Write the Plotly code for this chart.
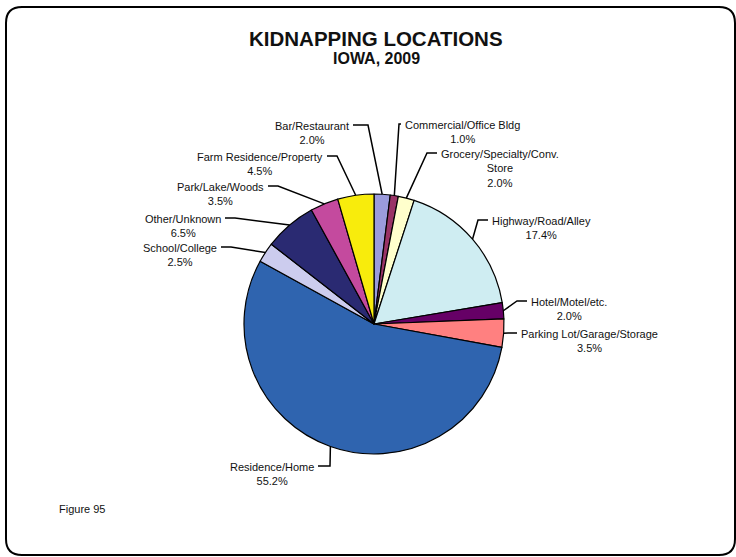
import math
import plotly.graph_objects as go

W, H = 736, 557

# ---- data (clockwise from 12 o'clock) ----
categories = [
    "Bar/Restaurant",
    "Commercial/Office Bldg",
    "Grocery/Specialty/Conv. Store",
    "Highway/Road/Alley",
    "Hotel/Motel/etc.",
    "Parking Lot/Garage/Storage",
    "Residence/Home",
    "School/College",
    "Other/Unknown",
    "Park/Lake/Woods",
    "Farm Residence/Property",
]
percents = [2.0, 1.0, 2.0, 17.4, 2.0, 3.5, 55.2, 2.5, 6.5, 3.5, 4.5]

# ---- styles ----
colors = [
    "#9B9BDC", "#993366", "#FFFFCC", "#CFEDF2", "#660066", "#FF8080",
    "#2F64AF", "#CCCCEE", "#2A2A72", "#C44A9E", "#F8EC0C",
]
# label anchor point in pixels (where leader line meets the text) and side
label_anchor = [
    (353, 125, "L"), (401, 124, "R"), (437, 153, "R"), (488, 220, "R"),
    (527, 301, "R"), (517, 333, "R"), (318, 466, "L"), (221, 247, "L"),
    (225, 218, "L"), (268, 186, "L"), (327, 156, "L"),
]
elbow_len = [15, 2, 10, 10, 10, 9, 12, 10, 10, 10, 10]

CX, CY, R = 374, 324, 130
FONT = "Liberation Sans, Arial, sans-serif"


def px(x):
    return x / W


def py(y):
    return 1 - y / H


fig = go.Figure(go.Pie(
    labels=categories,
    values=percents,
    sort=False,
    direction="clockwise",
    rotation=0,
    marker=dict(colors=colors, line=dict(color="#000000", width=1.2)),
    textinfo="none",
    hoverinfo="label+percent",
    showlegend=False,
    domain=dict(x=[px(CX - R), px(CX + R)], y=[py(CY + R), py(CY - R)]),
))

shapes = []
annotations = []
total = sum(percents)
cum = 0.0
for cat, v, (ax, ay, side), el in zip(categories, percents, label_anchor, elbow_len):
    mid = (cum + v / 2) / total * 2 * math.pi
    cum += v
    rx = CX + R * math.sin(mid)
    ry = CY - R * math.cos(mid)
    ex = ax + el if side == "L" else ax - el
    path = f"M {px(rx)},{py(ry)} L {px(ex)},{py(ay)} L {px(ax)},{py(ay)}"
    shapes.append(dict(type="path", xref="paper", yref="paper", path=path,
                       line=dict(color="#000000", width=1.5), layer="above"))
    txt = cat.replace("Conv. ", "Conv.<br>") + f"<br>{v:.1f}%"
    annotations.append(dict(
        x=px(ax + (2 if side == "R" else -2)), y=py(ay - 7),
        xref="paper", yref="paper",
        xanchor="left" if side == "R" else "right", yanchor="top",
        text=txt, showarrow=False, align="center",
        font=dict(family=FONT, size=11, color="#111111"),
    ))

annotations += [
    dict(x=px(376), y=py(38.5), xref="paper", yref="paper", text="<b>KIDNAPPING LOCATIONS</b>",
         showarrow=False, xanchor="center", yanchor="middle",
         font=dict(family=FONT, size=20.5, color="#111111")),
    dict(x=px(376), y=py(58.5), xref="paper", yref="paper", text="<b>IOWA, 2009</b>",
         showarrow=False, xanchor="center", yanchor="middle",
         font=dict(family=FONT, size=16, color="#111111")),
    dict(x=px(57), y=py(509), xref="paper", yref="paper", text="Figure 95",
         showarrow=False, xanchor="left", yanchor="middle",
         font=dict(family=FONT, size=11, color="#111111")),
]

# rounded frame
x0, y0, x1, y1, rr = 6, 7, 735, 555, 16
frame = (
    f"M {px(x0 + rr)},{py(y0)} L {px(x1 - rr)},{py(y0)} "
    f"Q {px(x1)},{py(y0)} {px(x1)},{py(y0 + rr)} "
    f"L {px(x1)},{py(y1 - rr)} Q {px(x1)},{py(y1)} {px(x1 - rr)},{py(y1)} "
    f"L {px(x0 + rr)},{py(y1)} Q {px(x0)},{py(y1)} {px(x0)},{py(y1 - rr)} "
    f"L {px(x0)},{py(y0 + rr)} Q {px(x0)},{py(y0)} {px(x0 + rr)},{py(y0)} Z"
)
shapes.append(dict(type="path", xref="paper", yref="paper", path=frame,
                   line=dict(color="#000000", width=2), layer="below"))

fig.update_layout(
    width=W, height=H,
    margin=dict(l=0, r=0, t=0, b=0),
    paper_bgcolor="#FFFFFF",
    plot_bgcolor="#FFFFFF",
    shapes=shapes,
    annotations=annotations,
    showlegend=False,
)

fig.write_html("out.html", config={"displayModeBar": False},
               post_script="document.body.style.margin='0';")
